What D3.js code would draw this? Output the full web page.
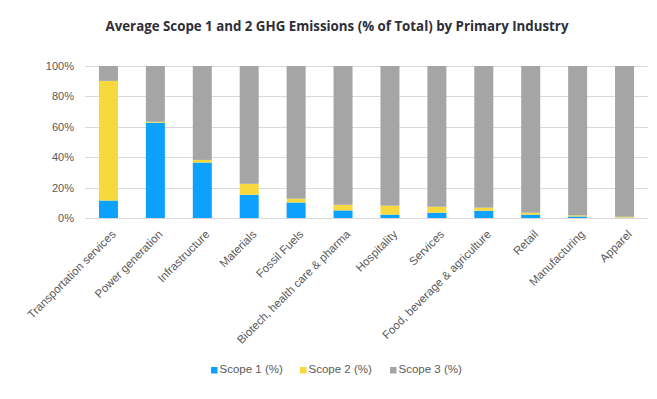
<!DOCTYPE html>
<html>
<head>
<meta charset="utf-8">
<script src="https://cdn.jsdelivr.net/npm/d3@7"></script>
<style>
  body { margin: 0; background: #fff; }
  svg { display: block; }
</style>
</head>
<body>
<div id="main"></div>
<script>
var industries = ["Transportation services", "Power generation", "Infrastructure", "Materials",
  "Fossil Fuels", "Biotech, health care & pharma", "Hospitality", "Services",
  "Food, beverage & agriculture", "Retail", "Manufacturing", "Apparel"];
var scope1 = [11.5, 62.7, 36.5, 15.3, 10.2, 5.0, 2.2, 3.5, 4.8, 2.2, 1.0, 0.2];
var scope2 = [78.7, 0.6, 1.7, 7.2, 2.5, 3.7, 5.9, 3.9, 2.0, 1.3, 0.7, 0.6];
var scope3 = [9.8, 36.7, 61.8, 77.5, 87.3, 91.3, 91.9, 92.6, 93.2, 96.5, 98.3, 99.2];
var yTicks = [0, 20, 40, 60, 80, 100];
var seriesNames = ["Scope 1 (%)", "Scope 2 (%)", "Scope 3 (%)"];
var colors = ["#0ba1fd", "#f8d93d", "#a5a5a5"];

var W = 657, H = 399;
var margin = {top: 66, right: 9, bottom: 181, left: 85},
    width = W - margin.left - margin.right,
    height = H - margin.top - margin.bottom;

var svg = d3.select("#main").append("svg")
    .attr("width", W)
    .attr("height", H);

// title
svg.append("text")
    .attr("x", 337)
    .attr("y", 31)
    .attr("text-anchor", "middle")
    .style("font-family", "'Open Sans', sans-serif")
    .style("font-weight", "bold")
    .style("font-size", "13.3px")
    .style("fill", "#2e2e38")
    .text("Average Scope 1 and 2 GHG Emissions (% of Total) by Primary Industry");

var g = svg.append("g")
    .attr("transform", "translate(" + margin.left + "," + margin.top + ")");

var x = d3.scaleBand()
    .domain(industries)
    .range([0, width])
    .paddingInner(0.595)
    .paddingOuter(0.2975);

var y = d3.scaleLinear()
    .domain([0, 100])
    .range([height, 0]);

// gridlines
g.append("g")
  .selectAll("line")
  .data(yTicks)
  .enter().append("line")
    .attr("x1", 0)
    .attr("x2", width)
    .attr("y1", function(d) { return Math.round(y(d)) + 0.5; })
    .attr("y2", function(d) { return Math.round(y(d)) + 0.5; })
    .attr("stroke", "#d9d9d9")
    .attr("stroke-width", 1);

// y axis labels
var yAxis = g.append("g")
    .call(d3.axisLeft(y).tickValues(yTicks).tickSize(0).tickPadding(11)
      .tickFormat(function(d) { return d + "%"; }));
yAxis.select(".domain").remove();
yAxis.selectAll("text")
    .style("font-family", "'Liberation Sans', Arial, sans-serif")
    .style("font-size", "11px")
    .style("fill", "#595959");

// stacked data
var rows = industries.map(function(name, i) {
  return {name: name, s1: scope1[i], s2: scope2[i], s3: scope3[i]};
});
var stack = d3.stack().keys(["s1", "s2", "s3"]);
var layers = stack(rows);

g.append("g")
  .selectAll("g")
  .data(layers)
  .enter().append("g")
    .attr("fill", function(d, i) { return colors[i]; })
  .selectAll("rect")
  .data(function(d) { return d; })
  .enter().append("rect")
    .attr("x", function(d) { return x(d.data.name); })
    .attr("width", x.bandwidth())
    .attr("y", function(d) { return y(d[1]); })
    .attr("height", function(d) { return y(d[0]) - y(d[1]); });

// x axis labels, rotated so the end of each label sits by its bar
var xAxis = g.append("g")
    .attr("transform", "translate(0," + height + ")")
    .call(d3.axisBottom(x).tickSize(0));
xAxis.select(".domain").remove();
xAxis.selectAll("text")
    .style("font-family", "'Liberation Sans', Arial, sans-serif")
    .style("font-size", "11.5px")
    .style("fill", "#595959")
    .attr("text-anchor", "end")
    .attr("x", 0)
    .attr("y", 0)
    .attr("dy", 0)
    .attr("transform", "translate(8,17) rotate(-45)");

// legend
var legendX = [211, 300, 390];
var legend = svg.append("g")
  .selectAll("g")
  .data(seriesNames)
  .enter().append("g")
    .attr("transform", function(d, i) { return "translate(" + legendX[i] + ",372)"; });
legend.append("rect")
    .attr("x", 0)
    .attr("y", -5)
    .attr("width", 6.5)
    .attr("height", 6.5)
    .attr("fill", function(d, i) { return colors[i]; });
legend.append("text")
    .attr("x", 8.5)
    .attr("y", 1)
    .style("font-family", "'Liberation Sans', Arial, sans-serif")
    .style("font-size", "11.5px")
    .style("fill", "#595959")
    .text(function(d) { return d; });
</script>
</body>
</html>
